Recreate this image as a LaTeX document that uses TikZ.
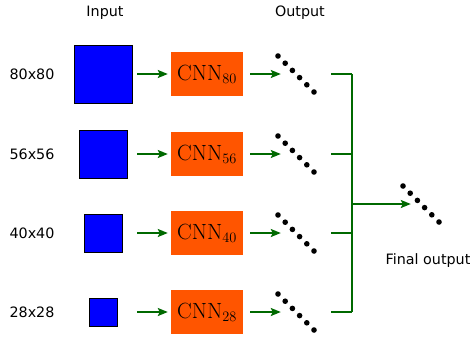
\documentclass[tikz,border=0pt]{standalone}
\usepackage{fontspec}
\newfontfamily\dvsans{DejaVu Sans}
\usetikzlibrary{arrows.meta}
\definecolor{inblue}{RGB}{0,0,255}
\definecolor{cnnorange}{RGB}{255,85,0}
\definecolor{arrgreen}{RGB}{0,105,0}
\tikzset{
  lbl/.style={font=\dvsans\fontsize{14.3}{16}\selectfont, inner sep=0pt},
  sq/.style={draw=black, line width=1pt, fill=inblue, inner sep=0pt, minimum size=#1},
  cnnbox/.style={fill=cnnorange, inner sep=0pt, minimum width=72pt, minimum height=44pt,
                 font=\fontsize{22}{26}\selectfont},
  arr/.style={draw=arrgreen, line width=1.8pt, -{Stealth[length=10pt,width=8pt,inset=2pt]}},
  bus/.style={draw=arrgreen, line width=1.3pt},
  dotgrp/.style={inner sep=0pt, minimum width=#1, minimum height=40pt},
}
\newcommand{\dotrow}[1]{%
  \foreach \k in {0,...,5}
    \fill ([shift={(-18+7.2*\k,-18+7.2*\k)}]#1.center) circle (2.8pt);}
\begin{document}
\begin{tikzpicture}[x=1pt,y=-1pt]
\useasboundingbox (0,0) rectangle (470,338);
\node[lbl] (tin) at (105,13) {Input};
\node[lbl] (tout) at (300,13) {Output};
\node[lbl] (tfin) at (428,261) {Final output};
% rows
\node[lbl] (l1) at (32,74) {80x80};
\node[lbl] (l2) at (32,154) {56x56};
\node[lbl] (l3) at (32,233) {40x40};
\node[lbl] (l4) at (32,312) {28x28};
\node[sq=58pt] (s1) at (103,74) {};
\node[sq=48pt] (s2) at (103,154) {};
\node[sq=38pt] (s3) at (103,233) {};
\node[sq=28pt] (s4) at (103,312) {};
\node[cnnbox] (c1) at (207,74) {$\mathrm{CNN}_{80}$};
\node[cnnbox] (c2) at (207,154) {$\mathrm{CNN}_{56}$};
\node[cnnbox] (c3) at (207,233) {$\mathrm{CNN}_{40}$};
\node[cnnbox] (c4) at (207,312) {$\mathrm{CNN}_{28}$};
\node[dotgrp=30pt] (o1) at (296,74) {};
\node[dotgrp=30pt] (o2) at (296,154) {};
\node[dotgrp=30pt] (o3) at (296,233) {};
\node[dotgrp=30pt] (o4) at (296,312) {};
\node[dotgrp=20pt] (f) at (421,204) {};
\dotrow{o1}\dotrow{o2}\dotrow{o3}\dotrow{o4}\dotrow{f}
\coordinate (a1) at (137,74);
\coordinate (a2) at (137,154);
\coordinate (a3) at (137,233);
\coordinate (a4) at (137,312);
\coordinate (b1) at (352,74);
\coordinate (b2) at (352,154);
\coordinate (b3) at (352,233);
\coordinate (b4) at (352,312);
\coordinate (bm) at (352,204);
\foreach \i in {1,...,4}{
  \draw[arr, shorten >=3pt] (a\i) -- (c\i.west);
  \draw[arr, shorten <=7pt] (c\i.east) -- (o\i.west);
  \draw[bus] ([xshift=20pt]o\i.east) -- (b\i);
}
\draw[bus] (b1) -- (b4);
\draw[arr] (bm) -- (f.west);
\end{tikzpicture}
\end{document}
